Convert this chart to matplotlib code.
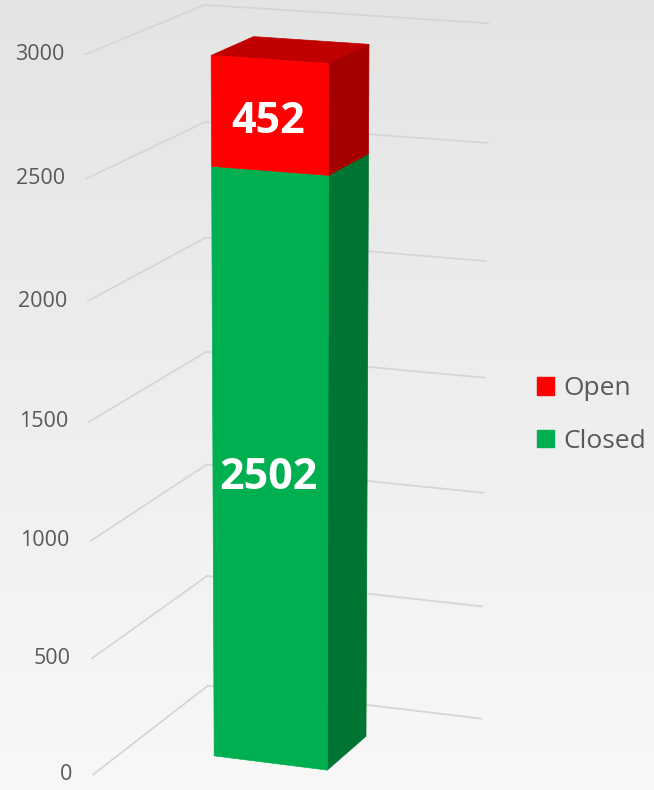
import numpy as np
import matplotlib.pyplot as plt
from matplotlib.patches import Patch
from matplotlib.colors import LinearSegmentedColormap
from matplotlib.transforms import ScaledTranslation
from mpl_toolkits.mplot3d.art3d import Poly3DCollection

plt.rcParams['font.family'] = ['Open Sans', 'DejaVu Sans']

# stacked segments, bottom to top
series = ['Closed', 'Open']
values = [2502, 452]
front_colors = ['#00B050', '#FF0000']
side_colors = ['#007533', '#A50000']
top_colors = ['#009040', '#C00000']
yticks = [0, 500, 1000, 1500, 2000, 2500, 3000]

fig = plt.figure(figsize=(6.54, 7.90), dpi=100)

# soft grey background, a bit darker at the top
bg = fig.add_axes([0, 0, 1, 1], zorder=-1)
grad = np.linspace(0, 1, 256).reshape(-1, 1)
cmap = LinearSegmentedColormap.from_list('bg', ['#E4E4E4', '#F8F8F8'])
bg.imshow(grad, aspect='auto', cmap=cmap, extent=[0, 1, 0, 1])
bg.axis('off')

# square 3d axes, larger than the figure so nothing gets clipped
ax = fig.add_axes([-0.2231, -0.058, 850 / 654, 850 / 790], projection='3d',
                  computed_zorder=False)
ax.set_facecolor('none')
ax.set_axis_off()
ax.set_xlim(0, 1)
ax.set_ylim(0, 1)
ax.set_zlim(0, 3000)
ax.set_box_aspect((0.98, 0.98, 2.34), zoom=0.9695)
ax.view_init(elev=14.5, azim=-69)
ax.set_proj_type('persp', focal_length=1.0)

# gridlines on the left wall and back wall
for t in yticks:
    ax.plot([0, 0, 1], [0, 1, 1], [t, t, t], color='#D6D6D6', lw=1.3, zorder=1)

off = ScaledTranslation(-21 / 100, 0, fig.dpi_scale_trans)
for t in yticks:
    ax.text(0, 0, t, str(t), transform=ax.transData + off, ha='right', va='center',
            fontsize=15.5, color='#595959')

# the bar
x0, x1 = 0.3, 0.7
y0, y1 = 0.315, 0.685
bottoms = np.cumsum([0] + values[:-1])
faces, colors = [], []
for b, v, fc, sc in zip(bottoms, values, front_colors, side_colors):
    t = b + v
    faces.append([(x0, y0, b), (x1, y0, b), (x1, y0, t), (x0, y0, t)])
    colors.append(fc)
    faces.append([(x1, y0, b), (x1, y1, b), (x1, y1, t), (x1, y0, t)])
    colors.append(sc)
top = bottoms[-1] + values[-1]
faces.append([(x0, y0, top), (x1, y0, top), (x1, y1, top), (x0, y1, top)])
colors.append(top_colors[-1])
ax.add_collection3d(Poly3DCollection(faces, facecolors=colors, edgecolors=colors,
                                     linewidths=0.5, zorder=2))

lab_off = ScaledTranslation(-2 / 100, -6 / 100, fig.dpi_scale_trans)
for b, v in zip(bottoms, values):
    ax.text(0.5, y0, b + v / 2, str(v), color='white', fontsize=31, fontweight='bold',
            ha='center', va='center', zorder=5, transform=ax.transData + lab_off)

handles = [Patch(color=front_colors[1], label=series[1]),
           Patch(color=front_colors[0], label=series[0])]
fig.legend(handles=handles, loc='center left', bbox_to_anchor=(537 / 654, 1 - 415 / 790),
           frameon=False, fontsize=19, labelcolor='#595959', handlelength=0.65,
           handleheight=0.65, handletextpad=0.35, labelspacing=1.04,
           borderpad=0, borderaxespad=0)

fig.savefig('out.png', dpi=100)
